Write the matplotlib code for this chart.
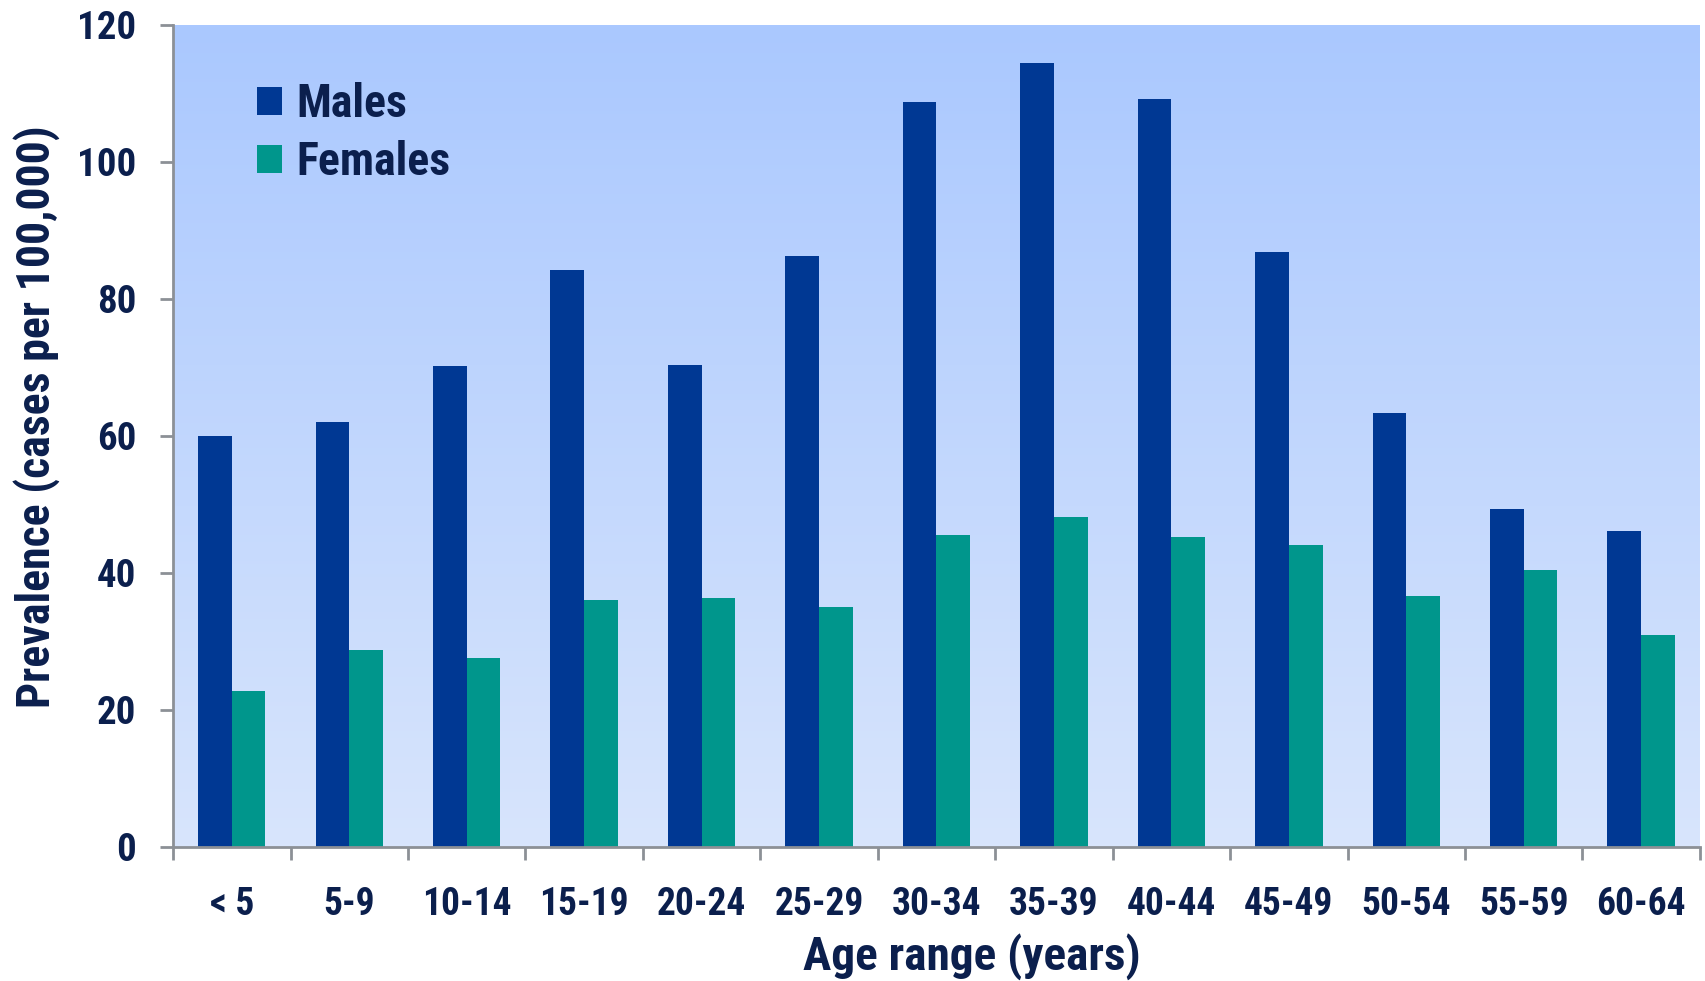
import matplotlib.pyplot as plt
import numpy as np

ages = ['< 5', '5-9', '10-14', '15-19', '20-24', '25-29', '30-34',
        '35-39', '40-44', '45-49', '50-54', '55-59', '60-64']
males = [60, 62, 70.2, 84.2, 70.3, 86.3, 108.8, 114.5, 109.2, 86.9, 63.3, 49.4, 46.1]
females = [22.7, 28.8, 27.6, 36.0, 36.3, 35.0, 45.5, 48.2, 45.2, 44.1, 36.7, 40.4, 30.9]

navy = '#0B1F4D'
grey = '#8C9096'
c_m = '#003893'
c_f = '#00968C'

plt.rcParams['font.family'] = ['Roboto Condensed', 'PT Sans Narrow', 'Liberation Sans', 'DejaVu Sans']
plt.rcParams['font.weight'] = 'bold'
plt.rcParams['axes.labelweight'] = 'bold'

fig = plt.figure(figsize=(17.05, 9.81), dpi=100)
ax = fig.add_axes([0.1015, 0.1366, 0.8955, 0.838])

# background gradient (light at bottom, stronger blue on top)
top = np.array([170, 200, 255]) / 255
bot = np.array([216, 229, 252]) / 255
t = np.linspace(0, 1, 256)[:, None]
grad = (top * (1 - t) + bot * t)[:, None, :]
ax.imshow(grad, extent=[0, 1, 0, 1], transform=ax.transAxes, aspect='auto', zorder=0)

x = np.arange(len(ages))
w = 0.287
ax.bar(x - w / 2, males, width=w, color=c_m, label='Males', zorder=2)
ax.bar(x + w / 2, females, width=w, color=c_f, label='Females', zorder=2)

ax.set_xlim(-0.5, len(ages) - 0.5)
ax.set_ylim(0, 120)
ax.set_yticks(np.arange(0, 121, 20))
ax.set_xticks(x)
ax.set_xticklabels(ages)
ax.set_xticks(np.arange(-0.5, len(ages), 1), minor=True)

for s in ['top', 'right']:
    ax.spines[s].set_visible(False)
for s in ['left', 'bottom']:
    ax.spines[s].set_color(grey)
    ax.spines[s].set_linewidth(2)
    ax.spines[s].set_zorder(3)

ax.tick_params(axis='y', direction='out', length=9.5, width=2, color=grey,
               labelsize=28, labelcolor=navy, pad=17)
ax.tick_params(axis='x', which='major', length=0, labelsize=27, labelcolor=navy, pad=28)
ax.tick_params(axis='x', which='minor', direction='out', length=9.5, width=2, color=grey)

ax.set_xlabel('Age range (years)', fontsize=34, color=navy)
ax.xaxis.set_label_coords(0.523, -0.105)
ax.set_ylabel('Prevalence (cases per 100,000)', fontsize=33, color=navy)
ax.yaxis.set_label_coords(-0.074, 0.524)

ax.legend(loc='upper left', bbox_to_anchor=(0.04, 0.958), frameon=False,
          fontsize=33, labelcolor=navy, handlelength=0.55, handleheight=0.55,
          handletextpad=0.3, labelspacing=0.3, borderpad=0)

fig.savefig('out.png', dpi=100)
